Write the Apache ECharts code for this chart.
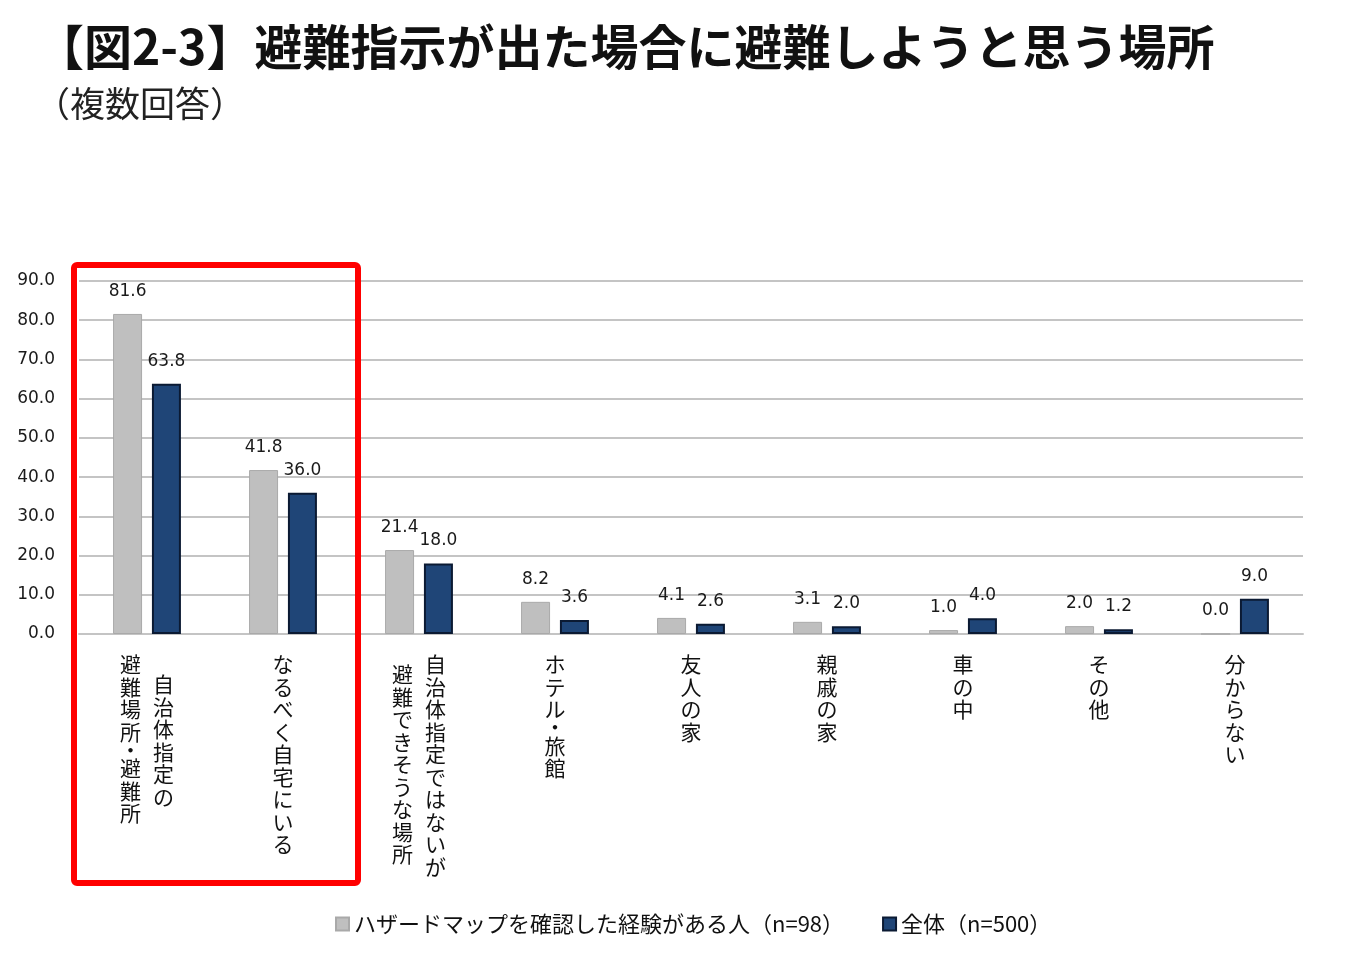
<!DOCTYPE html>
<html lang="ja">
<head>
    <meta charset="UTF-8">
    <title>避難指示が出た場合に避難しようと思う場所</title>
    <script src="https://cdn.jsdelivr.net/npm/echarts@6/dist/echarts.min.js"></script>
    <style>
        html, body { margin: 0; padding: 0; background: #fff; }
        #main { width: 1364px; height: 960px; }
    </style>
</head>
<body>
    <div id="main"></div>
    <script>
        // 縦書きラベル: '\n' で列を区切る（1列目が右側）
        var categories = [
            '自治体指定の\n避難場所・避難所',
            'なるべく自宅にいる',
            '自治体指定ではないが\n避難できそうな場所',
            'ホテル・旅館',
            '友人の家',
            '親戚の家',
            '車の中',
            'その他',
            '分からない'
        ];
        var hazardMapValues = [81.6, 41.8, 21.4, 8.2, 4.1, 3.1, 1.0, 2.0, 0.0];
        var allValues = [63.8, 36.0, 18.0, 3.6, 2.6, 2.0, 4.0, 1.2, 9.0];
        var seriesNames = ['ハザードマップを確認した経験がある人（n=98）', '全体（n=500）'];

        var jpFont = '"Noto Sans CJK JP", sans-serif';
        var numFont = '"DejaVu Sans", sans-serif';

        // 1列分の縦書きテキストを作る。offset は半文字単位の下げ幅
        function column(text, style, offset) {
            var rows = [];
            for (var i = 0; i < offset; i++) rows.push('{sp|\u3000}');
            text.split('').forEach(function (ch) {
                // 中黒は詰めて組む
                rows.push('{' + style + (ch === '・' ? 'd' : '') + '|' + ch + '}');
            });
            return rows.join('\n');
        }

        // which: 0 = 右の列（または1列だけのとき）, 1 = 左の列
        function verticalLabel(value, which) {
            var cols = value.split('\n');
            if (cols.length === 1) {
                return which === 0 ? column(cols[0], 'c', 0) : '';
            }
            var maxLen = Math.max(cols[0].length, cols[1].length);
            var col = cols[which];
            return column(col, which === 0 ? 'r' : 'l', maxLen - col.length);
        }

        function glyph(lineHeight, padding) {
            return { fontSize: 21, lineHeight: lineHeight, fontFamily: jpFont, color: '#111', padding: padding };
        }
        var rich = {
            sp: { fontSize: 1, lineHeight: 10 },
            c: glyph(22.5, [0, 0, 0, 0]),
            r: glyph(22.5, [0, 0, 0, 33]),
            l: glyph(22.5, [0, 33, 0, 0]),
            cd: glyph(14, [0, 0, 0, 0]),
            rd: glyph(14, [0, 0, 0, 33]),
            ld: glyph(14, [0, 33, 0, 0])
        };

        var chart = echarts.init(document.getElementById('main'));

        var valueLabel = {
            show: true,
            position: 'top',
            distance: 14,
            fontSize: 17,
            fontFamily: numFont,
            color: '#1a1a1a',
            formatter: function (p) { return p.value.toFixed(1); }
        };

        var option = {
            backgroundColor: '#ffffff',
            animation: false,
            title: [{
                text: '【図2-3】避難指示が出た場合に避難しようと思う場所',
                left: 31,
                top: 18,
                textStyle: { fontSize: 48, fontWeight: 'bold', fontFamily: jpFont, color: '#111' }
            }, {
                text: '（複数回答）',
                left: 30,
                top: 81,
                textStyle: { fontSize: 35, fontWeight: 'normal', fontFamily: jpFont, color: '#222' }
            }],
            legend: {
                bottom: 20,
                left: 330,
                icon: 'rect',
                itemWidth: 13,
                itemHeight: 13,
                itemGap: 38,
                textStyle: { fontSize: 22, fontFamily: jpFont, color: '#111' },
                data: seriesNames
            },
            grid: {
                left: 79,
                right: 61,
                top: 281,
                bottom: 326
            },
            xAxis: [{
                type: 'category',
                data: categories,
                position: 'bottom',
                axisLine: { lineStyle: { color: '#c4c4c4', width: 2 } },
                axisTick: { show: false },
                axisLabel: {
                    interval: 0,
                    margin: 19,
                    align: 'center',
                    formatter: function (v) { return verticalLabel(v, 0); },
                    rich: rich
                }
            }, {
                type: 'category',
                data: categories,
                position: 'bottom',
                axisLine: { show: false },
                axisTick: { show: false },
                splitLine: { show: false },
                axisLabel: {
                    interval: 0,
                    margin: 19,
                    align: 'center',
                    formatter: function (v) { return verticalLabel(v, 1); },
                    rich: rich
                }
            }],
            yAxis: {
                type: 'value',
                min: 0,
                max: 90,
                interval: 10,
                axisLine: { show: false },
                axisTick: { show: false },
                splitLine: { lineStyle: { color: '#c4c4c4', width: 2 } },
                axisLabel: {
                    margin: 24,
                    fontSize: 17,
                    fontFamily: numFont,
                    color: '#1a1a1a',
                    formatter: function (v) { return v.toFixed(1); }
                }
            },
            series: [{
                name: seriesNames[0],
                type: 'bar',
                barWidth: 29,
                barGap: '34%',
                data: hazardMapValues,
                itemStyle: { color: '#bfbfbf', borderColor: '#a9a9a9', borderWidth: 1 },
                label: valueLabel
            }, {
                name: seriesNames[1],
                type: 'bar',
                barWidth: 29,
                data: allValues,
                itemStyle: { color: '#1f4577', borderColor: '#0b1a33', borderWidth: 2 },
                label: valueLabel
            }],
            graphic: [{
                // 赤枠（強調）
                type: 'rect',
                shape: { x: 74, y: 265, width: 284, height: 618, r: 3 },
                style: { fill: 'none', stroke: '#ff0000', lineWidth: 6 },
                z: 10
            }]
        };

        chart.setOption(option);
    </script>
</body>
</html>
